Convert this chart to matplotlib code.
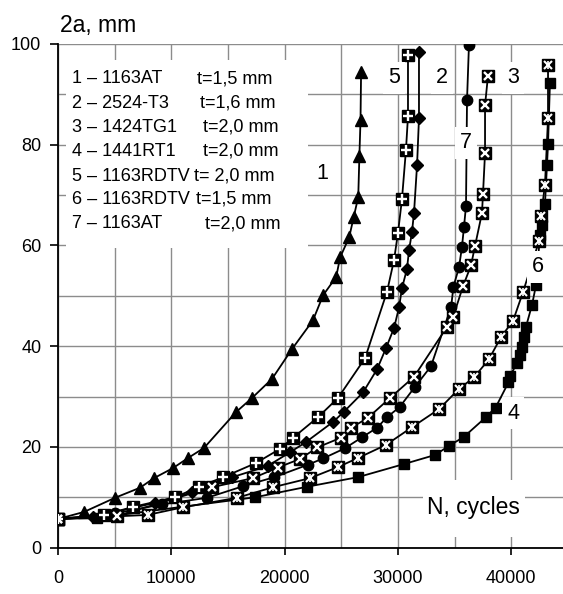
import matplotlib
matplotlib.use("Agg")
import matplotlib.pyplot as plt
from matplotlib.patches import Rectangle

plt.rcParams["font.family"] = ["Liberation Sans", "DejaVu Sans"]

# crack length 2a (mm) vs number of cycles N
n1 = [0, 2300, 5030, 7240, 8470, 10150, 11480, 12890, 15710, 17120, 18890, 20650,
      22500, 23400, 24550, 24900, 25700, 26100, 26500, 26600, 26700, 26750]
a1 = [5.7, 7.1, 9.9, 11.9, 13.8, 15.8, 17.8, 19.8, 26.9, 29.7, 33.5, 39.4,
      45.1, 50.1, 53.7, 57.6, 61.6, 65.6, 69.6, 77.7, 84.8, 94.4]

n2 = [0, 3100, 8560, 11850, 15400, 18500, 20450, 21850, 24300, 25200, 26920,
      28160, 28950, 29660, 30100, 30360, 30800, 30980, 31240, 31420, 31690, 31860, 31860]
a2 = [5.7, 6.1, 8.9, 11.0, 14.0, 16.2, 18.9, 20.9, 25.0, 26.9, 30.8,
      35.4, 39.6, 43.6, 47.7, 51.5, 55.3, 59.0, 62.6, 66.4, 75.9, 85.2, 98.4]

n3 = [0, 5200, 13600, 17200, 19400, 21360, 22900, 24950, 25860, 27320, 29300,
      31420, 34330, 34860, 35750, 36450, 36800, 37420, 37510, 37690, 37690, 37950]
a3 = [5.7, 6.3, 12.0, 13.8, 15.9, 17.6, 19.9, 21.8, 23.8, 25.7, 29.7,
      33.9, 43.8, 45.7, 51.9, 56.0, 59.8, 66.4, 70.2, 78.3, 87.8, 93.6]

n4 = [0, 3440, 17390, 22000, 26480, 30540, 33280, 34510, 35830, 37770, 38620,
      39760, 39900, 40510, 40780, 40950, 41130, 41300, 41840, 42190, 42540,
      42720, 42980, 43160, 43250, 43420]
a4 = [5.7, 5.9, 10.0, 12.1, 14.0, 16.6, 18.4, 20.2, 22.0, 25.9, 27.8,
      32.8, 34.1, 36.6, 38.2, 39.8, 41.8, 43.8, 48.2, 52.1, 62.0,
      64.0, 68.2, 76.0, 80.1, 92.2]

n5 = [0, 4060, 6620, 10330, 12450, 14600, 17470, 19590, 20740, 22950, 24710,
      27100, 29040, 29660, 30010, 30360, 30710, 30890, 30890]
a5 = [5.7, 6.5, 8.1, 10.0, 12.1, 14.0, 16.8, 19.6, 21.8, 25.9, 29.7,
      37.6, 50.8, 57.1, 62.5, 69.2, 78.9, 85.6, 97.7]

n6 = [0, 7900, 11000, 15800, 18980, 22240, 24710, 26480, 28950, 31240, 33630,
      35390, 36720, 38040, 39100, 40160, 41040, 42450, 42630, 42980, 43250, 43250]
a6 = [5.7, 6.5, 8.0, 9.9, 12.0, 13.8, 16.0, 17.8, 20.4, 23.9, 27.5,
      31.5, 33.8, 37.4, 41.8, 45.0, 50.7, 60.8, 65.8, 72.0, 85.2, 95.8]

n7 = [0, 5000, 9200, 13150, 16330, 19100, 22100, 23390, 25300, 26830, 28160,
      29040, 30150, 31500, 32920, 34700, 34900, 35390, 35650, 35830, 36010, 36100, 36270]
a7 = [5.7, 6.8, 8.6, 9.9, 12.2, 14.0, 16.5, 17.7, 19.7, 21.9, 23.8,
      25.9, 27.9, 31.9, 36.0, 47.8, 51.8, 55.6, 59.6, 63.6, 67.8, 88.8, 99.7]

legend_names = ["1 \u2013 1163AT", "2 \u2013 2524-T3", "3 \u2013 1424TG1", "4 \u2013 1441RT1",
                "5 \u2013 1163RDTV", "6 \u2013 1163RDTV", "7 \u2013 1163AT"]
legend_thick = ["t=1,5 mm", "t=1,6 mm", "t=2,0 mm", "t=2,0 mm",
                "t= 2,0 mm", "t=1,5 mm", "t=2,0 mm"]

fig = plt.figure(figsize=(5.63, 5.94), dpi=100)
ax = fig.add_axes([58 / 563, 46.3 / 594, 45000 / 88.26 / 563, 504 / 594])

lw = 1.3
ax.plot(n1, a1, "-", color="black", lw=lw, marker="^", ms=9, zorder=3)
ax.plot(n2, a2, "-", color="black", lw=lw, marker="D", ms=6.5, zorder=3)
ax.plot(n7, a7, "-", color="black", lw=lw, marker="o", ms=7.5, zorder=3)
ax.plot(n4, a4, "-", color="black", lw=lw, marker="s", ms=7.5, zorder=3)
for n, a in [(n3, a3), (n5, a5), (n6, a6)]:
    ax.plot(n, a, "-", color="black", lw=lw, marker="s", ms=8.5, zorder=3)
# white crosses inside the square markers
ax.plot(n5, a5, "+", color="white", ms=6.5, mew=1.7, zorder=4)
ax.plot(n3, a3, "x", color="white", ms=5.5, mew=1.7, zorder=4)
ax.plot(n6, a6, "x", color="white", ms=5.5, mew=1.5, zorder=4)
ax.plot(n6, a6, "|", color="white", ms=5.5, mew=1.2, zorder=4)

# white boxes for the legend block and axis note
ax.add_patch(Rectangle((706, 59.5), 21360, 37.3, facecolor="white",
                       edgecolor="none", zorder=2))
ax.add_patch(Rectangle((32215, 2.1), 9000, 11.3, facecolor="white",
                       edgecolor="none", zorder=5))

leg_y = [93.0, 88.2, 83.4, 78.7, 73.7, 69.1, 64.3]
leg_x2 = [12270, 12530, 12800, 12800, 12000, 12180, 12970]
for i in range(7):
    ax.text(1236, leg_y[i], legend_names[i], fontsize=13, ha="left", va="center", zorder=6)
    ax.text(leg_x2[i], leg_y[i], legend_thick[i], fontsize=13, ha="left", va="center", zorder=6)

box = dict(boxstyle="square,pad=0.25", facecolor="white", edgecolor="none")
curve_labels = [("1", 23300, 74.3), ("5", 29650, 93.2), ("2", 33890, 93.2),
                ("3", 40160, 93.2), ("7", 36010, 80.3), ("6", 42360, 55.7),
                ("4", 40160, 26.7)]
for s, x, y in curve_labels:
    ax.text(x, y, s, fontsize=15.5, ha="center", va="center", bbox=box, zorder=6)

ax.text(36630, 7.9, "N, cycles", fontsize=16.5, ha="center", va="center", zorder=6)
ax.text(180, 103.7, "2a, mm", fontsize=16.5, ha="left", va="center", clip_on=False)

ax.set_xlim(0, 45000)
ax.set_ylim(0, 100)
ax.set_xticks([0, 10000, 20000, 30000, 40000])
ax.set_xticks(range(0, 45001, 5000), minor=True)
ax.set_yticks(range(0, 101, 20))
ax.set_yticks(range(0, 101, 10), minor=True)
ax.grid(True, which="both", color="#8c8c8c", lw=1.0)
ax.set_axisbelow(True)
ax.tick_params(axis="x", which="major", direction="out", length=5, width=1.2,
               pad=11, labelsize=13)
ax.tick_params(axis="y", which="major", direction="out", length=6, width=1.2,
               pad=6, labelsize=13)
ax.tick_params(which="minor", length=0)
for side in ["top", "right"]:
    ax.spines[side].set_visible(False)
for side in ["left", "bottom"]:
    ax.spines[side].set_linewidth(1.3)
    ax.spines[side].set_zorder(2.5)

fig.savefig("out.png", dpi=100)
